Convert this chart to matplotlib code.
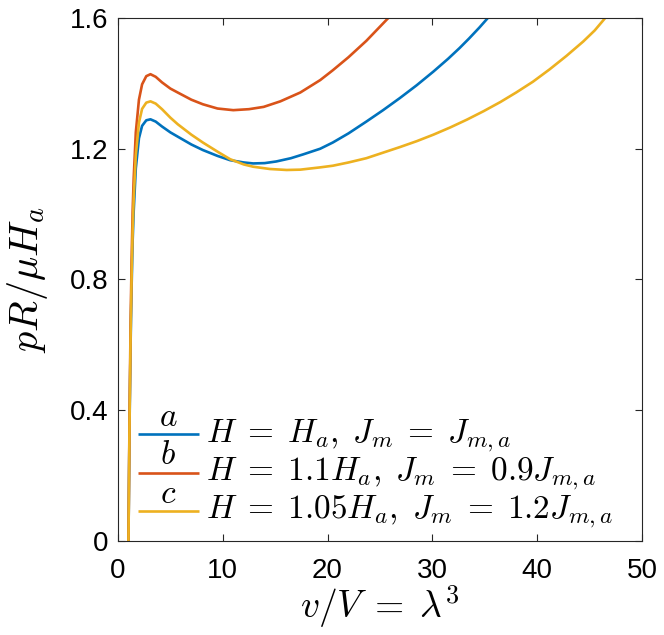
import matplotlib
matplotlib.use("Agg")
import matplotlib.pyplot as plt

plt.rcParams["mathtext.fontset"] = "cm"
plt.rcParams["font.family"] = ["Liberation Sans", "DejaVu Sans"]

# curve a: H = H_a, J_m = J_m,a
V_A = [1.0, 1.1, 1.2, 1.3, 1.4, 1.5, 1.7, 2.0, 2.3, 2.7, 3.1, 3.6, 4.2, 5.0,
       5.7, 7.0, 8.1, 9.5, 10.7, 12.0, 12.9, 14.0, 15.1, 16.5, 17.7, 19.3,
       20.5, 22.0, 23.7, 25.3, 26.9, 28.5, 30.1, 31.5, 32.6, 33.5, 34.5, 35.3]
P_A = [0.0, 0.35, 0.60, 0.78, 0.92, 1.01, 1.14, 1.232, 1.270, 1.287, 1.290,
       1.283, 1.268, 1.250, 1.237, 1.213, 1.196, 1.178, 1.165, 1.158, 1.155,
       1.156, 1.161, 1.171, 1.183, 1.200, 1.219, 1.247, 1.283, 1.318, 1.355,
       1.394, 1.436, 1.475, 1.508, 1.537, 1.571, 1.600]

# curve b: H = 1.1 H_a, J_m = 0.9 J_m,a
V_B = [1.0, 1.1, 1.2, 1.3, 1.4, 1.5, 1.7, 2.0, 2.3, 2.7, 3.1, 3.6, 4.2, 5.0,
       5.7, 7.0, 8.1, 9.5, 11.0, 12.5, 13.9, 15.5, 17.4, 19.3, 20.5, 22.0,
       23.7, 25.8]
P_B = [0.0, 0.38, 0.66, 0.86, 1.01, 1.11, 1.25, 1.35, 1.397, 1.422, 1.428,
       1.420, 1.403, 1.384, 1.372, 1.350, 1.336, 1.323, 1.318, 1.321, 1.328,
       1.345, 1.372, 1.410, 1.440, 1.480, 1.530, 1.600]

# curve c: H = 1.05 H_a, J_m = 1.2 J_m,a
V_C = [1.0, 1.1, 1.2, 1.3, 1.4, 1.5, 1.7, 2.0, 2.3, 2.7, 3.1, 3.6, 4.2, 5.0,
       5.7, 7.0, 8.1, 9.5, 10.7, 12.0, 12.9, 14.5, 16.1, 17.4, 19.3, 20.5,
       22.0, 23.7, 25.3, 26.9, 28.5, 30.1, 31.7, 33.3, 34.9, 36.5, 38.0,
       39.6, 41.2, 42.8, 44.4, 45.5, 46.5]
P_C = [0.0, 0.36, 0.62, 0.81, 0.95, 1.05, 1.18, 1.28, 1.322, 1.341, 1.345,
       1.338, 1.321, 1.295, 1.275, 1.243, 1.219, 1.191, 1.168, 1.152, 1.145,
       1.138, 1.135, 1.136, 1.143, 1.148, 1.158, 1.171, 1.188, 1.205, 1.223,
       1.243, 1.265, 1.289, 1.315, 1.343, 1.372, 1.405, 1.443, 1.484, 1.528,
       1.562, 1.600]

LETTERS = ["a", "b", "c"]
LABELS = [r"$H\;=\;H_a,\;J_m\;=\;J_{m,a}$",
          r"$H\;=\;1.1H_a,\;J_m\;=\;0.9J_{m,a}$",
          r"$H\;=\;1.05H_a,\;J_m\;=\;1.2J_{m,a}$"]
COLORS = ["#0072BD", "#D95319", "#EDB120"]

X_TICKS = [0, 10, 20, 30, 40, 50]
Y_TICKS = [0, 0.4, 0.8, 1.2, 1.6]
Y_TICKLABELS = ["0", "0.4", "0.8", "1.2", "1.6"]

fig = plt.figure(figsize=(6.64, 6.35), dpi=100)
ax = fig.add_axes([0.1777, 0.148, 0.789, 0.8237])

series = [(V_A, P_A), (V_B, P_B), (V_C, P_C)]
for (v, p), c in zip(series, COLORS):
    ax.plot(v, p, color=c, lw=1.9, solid_capstyle="butt")

ax.set_xlim(0, 50)
ax.set_ylim(0, 1.6)
ax.set_xticks(X_TICKS)
ax.set_yticks(Y_TICKS)
ax.set_yticklabels(Y_TICKLABELS)
ax.tick_params(direction="in", length=5, width=0.8, color="#262626",
               top=True, right=True, labelsize=20, labelcolor="black")
ax.tick_params(axis="x", pad=12)
ax.tick_params(axis="y", pad=7)
for s in ax.spines.values():
    s.set_linewidth(0.8)
    s.set_color("#262626")

ax.set_xlabel(r"$v/V\;=\;\lambda^3$", fontsize=27, labelpad=0)
ax.set_ylabel(r"$pR/\mu H_a$", fontsize=29, labelpad=14)

# legend: short line with letter above, label to the right
key_y = [0.204, 0.131, 0.058]
for ky, c, let, lab in zip(key_y, COLORS, LETTERS, LABELS):
    ax.plot([0.038, 0.155], [ky, ky], color=c, lw=1.9,
            transform=ax.transAxes, solid_capstyle="butt")
    ax.text(0.096, ky + 0.002, "$" + let + "$", transform=ax.transAxes,
            ha="center", va="bottom", fontsize=24)
    ax.text(0.168, ky - 0.002, lab, transform=ax.transAxes, ha="left",
            va="center", fontsize=24)

fig.savefig("out.png", dpi=100)
